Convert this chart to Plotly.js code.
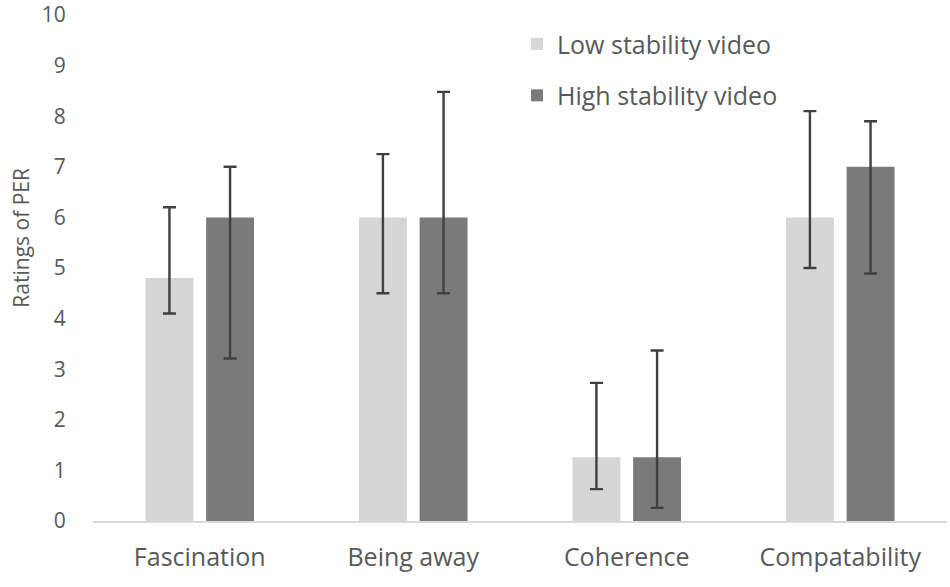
<!DOCTYPE html>
<html>
<head>
<meta charset="utf-8">
<script src="https://cdn.plot.ly/plotly-3.0.1.min.js"></script>
<style>html,body{margin:0;padding:0;background:#fff;}#chart{width:950px;height:587px;}</style>
</head>
<body>
<div id="chart"></div>
<script>
const categories = ["Fascination", "Being away", "Coherence", "Compatability"];
const seriesNames = ["Low stability video", "High stability video"];
const lowValues = [4.8, 6.0, 1.26, 6.0];
const lowErrPlus = [1.4, 1.25, 1.47, 2.1];
const lowErrMinus = [0.7, 1.5, 0.63, 1.0];
const highValues = [6.0, 6.0, 1.26, 7.0];
const highErrPlus = [1.0, 2.48, 2.11, 0.9];
const highErrMinus = [2.79, 1.5, 1.0, 2.11];
const yTicks = [0,1,2,3,4,5,6,7,8,9,10];
const yTitle = 'Ratings of PER';

const FONT = "'Open Sans', Lato, sans-serif";
const errStyle = {color: '#404040', thickness: 2.4, width: 6.5};

const traces = [
  {type: 'bar', name: seriesNames[0], x: categories, y: lowValues, legendgroup: 'a',
   marker: {color: '#d6d6d6'},
   error_y: Object.assign({type: 'data', symmetric: false, array: lowErrPlus, arrayminus: lowErrMinus}, errStyle)},
  {type: 'bar', name: seriesNames[1], x: categories, y: highValues, legendgroup: 'b',
   marker: {color: '#7a7a7a'},
   error_y: Object.assign({type: 'data', symmetric: false, array: highErrPlus, arrayminus: highErrMinus}, errStyle)}
];

const layout = {
  width: 950, height: 587,
  margin: {l: 93, r: 3, t: 15, b: 66},
  paper_bgcolor: '#fff', plot_bgcolor: '#fff',
  font: {family: FONT, color: '#595959', size: 21},
  barmode: 'group', bargap: 0.432, bargroupgap: 0.21,
  showlegend: true,
  legend: {x: 0.4965, y: 0.988, xanchor: 'left', yanchor: 'top', bgcolor: 'rgba(0,0,0,0)',
           font: {family: FONT, size: 25, color: '#595959'}, tracegroupgap: 16, traceorder: 'grouped'},
  xaxis: {showline: true, linecolor: '#d9d9d9', linewidth: 2, showgrid: false, zeroline: false,
          ticks: 'outside', ticklen: 13, tickcolor: 'rgba(0,0,0,0)',
          tickfont: {family: FONT, size: 25, color: '#595959'}},
  yaxis: {range: [0, 10], tickvals: yTicks, showline: false, showgrid: false, zeroline: false,
          ticks: 'outside', ticklen: 22, tickcolor: 'rgba(0,0,0,0)', ticklabeloverflow: 'allow',
          tickfont: {family: FONT, size: 21, color: '#595959'}},
  annotations: [{text: yTitle, xref: 'paper', yref: 'paper', x: -0.0843, y: 0.56,
                 xanchor: 'center', yanchor: 'middle', textangle: -90, showarrow: false,
                 font: {family: FONT, size: 21, color: '#595959'}}]
};

Plotly.newPlot('chart', traces, layout, {displayModeBar: false, staticPlot: true});
</script>
</body>
</html>
